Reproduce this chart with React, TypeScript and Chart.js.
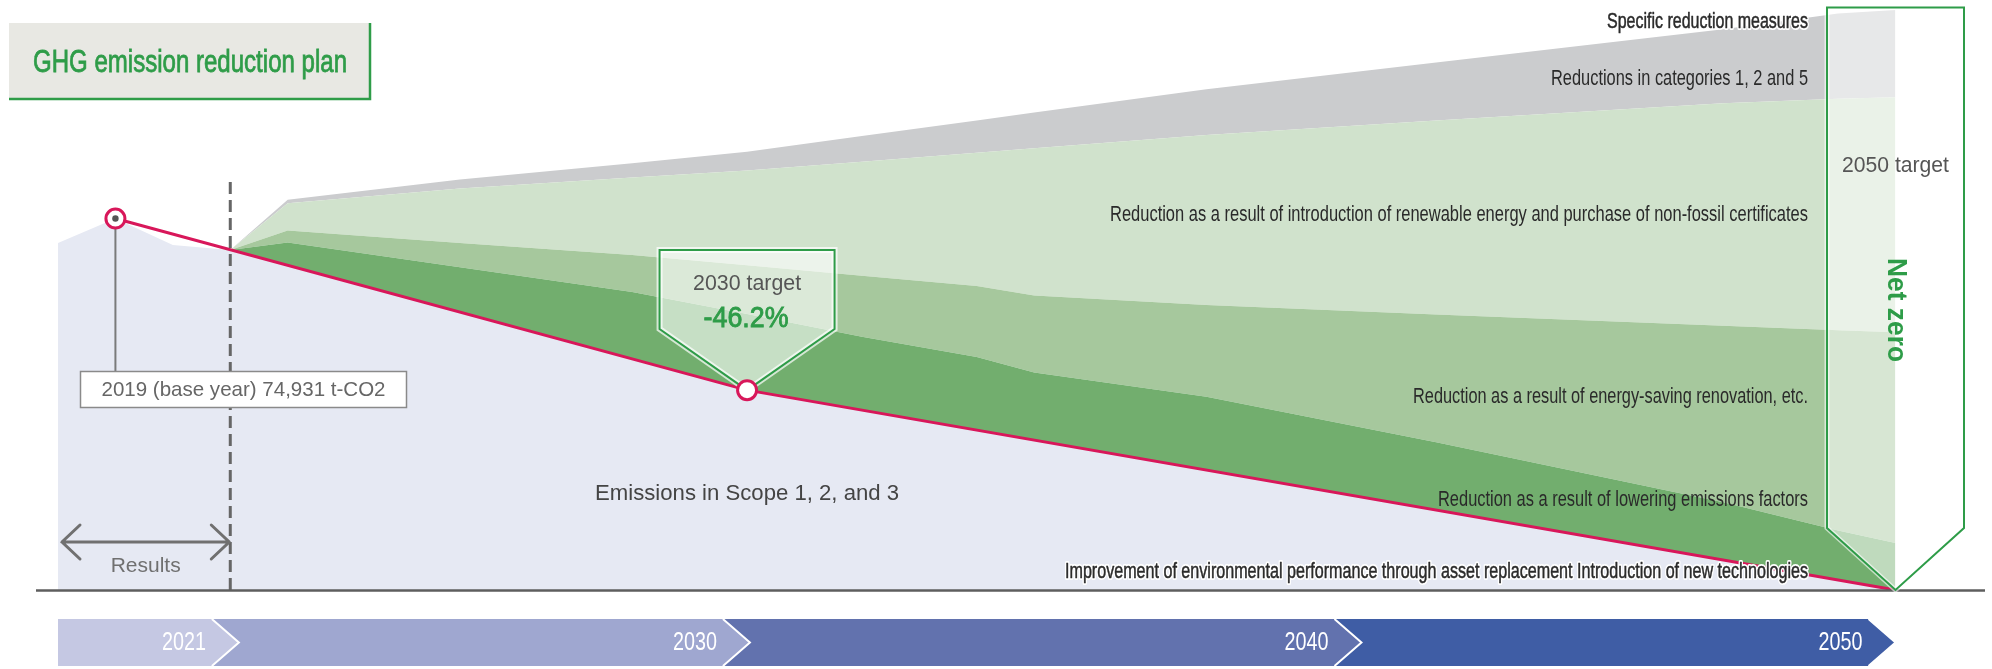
import React, { useEffect, useRef } from 'react';
import { Chart, registerables } from 'chart.js';

Chart.register(...registerables);

// ---- data (t-CO2) ----
// Actual emissions (Scope 1, 2 and 3) and the planned path below the target line
const emissionYears = [2018, 2019, 2020, 2021, 2030, 2050];
const emissionsScope123 = [70000, 74931, 69600, 68600, 40313, 0];

// Target path: base year 2019, 2030 target, 2050 net zero
const targetYears = [2019, 2030, 2050];
const targetPath = [74931, 40313, 0];

// Upper edge of each reduction band (cumulative, t-CO2)
const planYears = [2021, 2022, 2025, 2028, 2030, 2032, 2034, 2035, 2038, 2042, 2047, 2049, 2050];
const emissionsFactorTop = [68600, 70100, 65100, 60100, 55700, 51100, 47000, 43900, 39000, 29800, 17700, 12000, 9500];
const renovationTop = [68600, 72500, 70000, 67600, 65500, 63400, 61300, 59400, 57500, 55600, 53300, 52400, 52000];
const renewableTop = [68600, 78000, 81000, 83200, 84600, 86400, 88200, 89100, 91800, 94700, 98200, 99100, 99400];
const categoriesTop = [68600, 78700, 82800, 86100, 88400, 91600, 94700, 96300, 101000, 106400, 113100, 116300, 117000];

const resultsEndYear = 2021;

// Timeline band
const timelineLabels = ['2021', '2030', '2040', '2050'];

// Band captions
const bandCaptions = [
  'Specific reduction measures',
  'Reductions in categories 1, 2 and 5',
  'Reduction as a result of introduction of renewable energy and purchase of non-fossil certificates',
  'Reduction as a result of energy-saving renovation, etc.',
  'Reduction as a result of lowering emissions factors',
  'Improvement of environmental performance through asset replacement Introduction of new technologies',
];

// ---- layout & style ----
const W = 1992;
const H = 669;
const SANS = '"Liberation Sans", Arial, Helvetica, sans-serif';
const NARROW = '"Liberation Sans Narrow", "Liberation Sans", Arial, sans-serif';
const RED = '#d8175a';
const GREEN = '#2e9c48';
const LAVENDER = '#e6e9f3';
const DARK_GREEN = '#72ae6e';
const MID_GREEN = '#a6c89d';
const LIGHT_GREEN = '#d0e2cc';
const GREY = '#cbccce';
const TIMELINE_COLORS = ['#c5c8e3', '#9fa7d0', '#6272ae', '#3f5da5'];
const TIMELINE_TIPS = [2021.15, 2030.05, 2040.7, 2050];
// caption placement: [left, right, centre y, halo]
const CAPTION_BOXES: [number, number, number, boolean][] = [
  [1607, 1808, 22, true],
  [1551, 1808, 79, false],
  [1110, 1808, 215, false],
  [1413, 1808, 397, false],
  [1438, 1808, 500, false],
  [1065, 1808, 572, true],
];

function fitText(
  ctx: CanvasRenderingContext2D,
  text: string,
  left: number,
  right: number,
  cy: number,
  font: string,
  color: string,
  halo = 0,
  thicken = 0,
) {
  ctx.save();
  ctx.font = font;
  const w = ctx.measureText(text).width;
  const sx = (right - left) / w;
  ctx.translate(left, cy);
  ctx.scale(sx, 1);
  ctx.textAlign = 'left';
  ctx.textBaseline = 'middle';
  if (halo) {
    ctx.lineJoin = 'round';
    ctx.strokeStyle = '#ffffff';
    ctx.lineWidth = halo;
    ctx.strokeText(text, 0, 0);
  }
  if (thicken) {
    ctx.strokeStyle = color;
    ctx.lineWidth = thicken;
    ctx.strokeText(text, 0, 0);
  }
  ctx.fillStyle = color;
  ctx.fillText(text, 0, 0);
  ctx.restore();
}

function centerText(
  ctx: CanvasRenderingContext2D,
  text: string,
  cx: number,
  width: number,
  cy: number,
  font: string,
  color: string,
  thicken = 0,
) {
  fitText(ctx, text, cx - width / 2, cx + width / 2, cy, font, color, 0, thicken);
}

function pentagon(ctx: CanvasRenderingContext2D, cx: number, half: number, top: number, shoulder: number, tipY: number) {
  ctx.beginPath();
  ctx.moveTo(cx - half, top);
  ctx.lineTo(cx + half, top);
  ctx.lineTo(cx + half, shoulder);
  ctx.lineTo(cx, tipY);
  ctx.lineTo(cx - half, shoulder);
  ctx.closePath();
}

const decorPlugin = {
  id: 'decor',
  afterDatasetsDraw(chart: any) {
    const ctx: CanvasRenderingContext2D = chart.ctx;
    const xs = chart.scales.x;
    const ys = chart.scales.y;
    const px = (v: number) => xs.getPixelForValue(v);
    const py = (v: number) => ys.getPixelForValue(v);
    const y0 = py(0);

    ctx.save();

    // dashed divider between results and plan
    const xr = px(resultsEndYear);
    ctx.strokeStyle = '#666';
    ctx.lineWidth = 3;
    ctx.setLineDash([12, 6]);
    ctx.beginPath();
    ctx.moveTo(xr, 182);
    ctx.lineTo(xr, y0);
    ctx.stroke();
    ctx.setLineDash([]);

    // baseline
    ctx.strokeStyle = '#5e5e5e';
    ctx.lineWidth = 2.5;
    ctx.beginPath();
    ctx.moveTo(36, y0 + 0.5);
    ctx.lineTo(1985, y0 + 0.5);
    ctx.stroke();

    // "Results" double arrow
    const ay = 542;
    const ax0 = px(emissionYears[0]) + 4;
    const ax1 = xr - 1;
    ctx.strokeStyle = '#707070';
    ctx.lineWidth = 3;
    ctx.lineCap = 'round';
    ctx.beginPath();
    ctx.moveTo(ax0, ay);
    ctx.lineTo(ax1, ay);
    ctx.moveTo(ax0 + 18, ay - 17);
    ctx.lineTo(ax0, ay);
    ctx.lineTo(ax0 + 18, ay + 17);
    ctx.moveTo(ax1 - 18, ay - 17);
    ctx.lineTo(ax1, ay);
    ctx.lineTo(ax1 - 18, ay + 17);
    ctx.stroke();
    ctx.lineCap = 'butt';
    centerText(ctx, 'Results', (ax0 + ax1) / 2, 70, 566, `21px ${SANS}`, '#707070');

    // 2050 target arrow
    const x50 = px(targetYears[2]);
    pentagon(ctx, x50, 68.5, 7.5, 528, y0);
    ctx.fillStyle = 'rgba(255,255,255,0.55)';
    ctx.fill();
    ctx.strokeStyle = 'rgba(255,255,255,0.6)';
    ctx.lineWidth = 5;
    ctx.stroke();
    ctx.strokeStyle = GREEN;
    ctx.lineWidth = 2;
    ctx.stroke();

    // 2030 target callout
    const x30 = px(targetYears[1]);
    const y30 = py(targetPath[1]);
    pentagon(ctx, x30, 87.5, 250, 329, y30);
    ctx.fillStyle = 'rgba(255,255,255,0.6)';
    ctx.fill();
    ctx.strokeStyle = 'rgba(255,255,255,0.7)';
    ctx.lineWidth = 6;
    ctx.stroke();
    ctx.strokeStyle = GREEN;
    ctx.lineWidth = 2;
    ctx.stroke();
    const pct = ((targetPath[1] - targetPath[0]) / targetPath[0]) * 100;
    centerText(ctx, `${targetYears[1]} target`, x30, 108, 284, `22px ${SANS}`, '#555');
    centerText(ctx, `${pct.toFixed(1)}%`, x30 - 1, 85, 319, `30px ${SANS}`, GREEN, 0.9);

    // base year connector and label
    const x19 = px(targetYears[0]);
    const y19 = py(targetPath[0]);
    ctx.strokeStyle = '#7a7a7a';
    ctx.lineWidth = 2;
    ctx.beginPath();
    ctx.moveTo(x19, y19);
    ctx.lineTo(x19, 371);
    ctx.stroke();
    ctx.fillStyle = '#ffffff';
    ctx.fillRect(80, 371, 327, 37);
    ctx.strokeStyle = '#8a8a8a';
    ctx.lineWidth = 1.5;
    ctx.strokeRect(80.5, 371.5, 326, 36);
    centerText(
      ctx,
      `${targetYears[0]} (base year) ${targetPath[0].toLocaleString('en-US')} t-CO2`,
      243.5,
      284,
      390,
      `21px ${SANS}`,
      '#666',
    );

    // markers on the target path
    for (const [cx, cy] of [[x19, y19], [x30, y30]]) {
      ctx.beginPath();
      ctx.arc(cx, cy, 9.5, 0, Math.PI * 2);
      ctx.fillStyle = '#ffffff';
      ctx.fill();
      ctx.strokeStyle = RED;
      ctx.lineWidth = 3;
      ctx.stroke();
    }
    ctx.beginPath();
    ctx.arc(x19, y19, 3.2, 0, Math.PI * 2);
    ctx.fillStyle = '#555';
    ctx.fill();

    // band captions
    bandCaptions.forEach((t, i) => {
      const [l, r, cy, halo] = CAPTION_BOXES[i];
      fitText(ctx, t, l, r, cy, `22px ${NARROW}`, '#2a2a2a', halo ? 4 : 0, halo ? 0.5 : 0);
    });

    centerText(ctx, 'Emissions in Scope 1, 2, and 3', x30, 304, 494, `22px ${SANS}`, '#444');
    centerText(ctx, `${targetYears[2]} target`, x50, 107, 166, `22px ${SANS}`, '#555');

    // "Net zero" written vertically
    ctx.save();
    ctx.translate(x50, 310);
    ctx.rotate(Math.PI / 2);
    centerText(ctx, 'Net zero', 0, 104, 0, `bold 27px ${SANS}`, GREEN);
    ctx.restore();

    // timeline band
    const bandTop = 619;
    const bandBot = 666;
    const mid = (bandTop + bandBot) / 2;
    const depth = 27;
    const tips = TIMELINE_TIPS.map(px);
    tips.forEach((tip, i) => {
      const left = i === 0 ? px(emissionYears[0]) : tips[i - 1] - depth;
      ctx.beginPath();
      ctx.moveTo(left, bandTop);
      ctx.lineTo(tip - depth, bandTop);
      ctx.lineTo(tip, mid);
      ctx.lineTo(tip - depth, bandBot);
      ctx.lineTo(left, bandBot);
      if (i > 0) ctx.lineTo(tips[i - 1], mid);
      ctx.closePath();
      ctx.fillStyle = TIMELINE_COLORS[i];
      ctx.fill();
    });
    ctx.strokeStyle = '#ffffff';
    ctx.lineWidth = 2;
    tips.forEach((tip) => {
      ctx.beginPath();
      ctx.moveTo(tip - depth, bandTop);
      ctx.lineTo(tip, mid);
      ctx.lineTo(tip - depth, bandBot);
      ctx.stroke();
    });
    timelineLabels.forEach((t, i) => {
      const r = tips[i] - 33;
      fitText(ctx, t, r - 44, r, mid + 1, `25px ${NARROW}`, '#ffffff');
    });

    // title
    ctx.fillStyle = '#e8e8e3';
    ctx.fillRect(9, 23, 362, 77);
    ctx.strokeStyle = GREEN;
    ctx.lineWidth = 2.5;
    ctx.beginPath();
    ctx.moveTo(370, 23);
    ctx.lineTo(370, 99);
    ctx.lineTo(9, 99);
    ctx.stroke();
    fitText(ctx, 'GHG emission reduction plan', 33, 347, 63, `32px ${NARROW}`, GREEN, 0, 0.8);

    ctx.restore();
  },
};

export default function App() {
  const ref = useRef<HTMLCanvasElement>(null);

  useEffect(() => {
    const canvas = ref.current;
    if (!canvas) return;
    const toXY = (xs: number[], ys: number[]) => xs.map((x, i) => ({ x, y: ys[i] }));
    const area = (label: string, xs: number[], ys: number[], color: string, fill: any) => ({
      label,
      data: toXY(xs, ys),
      backgroundColor: color,
      borderColor: 'rgba(0,0,0,0)',
      borderWidth: 0,
      pointRadius: 0,
      tension: 0,
      fill,
      order: 1,
    });

    const chart = new Chart(canvas, {
      type: 'line',
      data: {
        datasets: [
          area('Emissions in Scope 1, 2, and 3', emissionYears, emissionsScope123, LAVENDER, 'origin'),
          area(bandCaptions[4], planYears, emissionsFactorTop, DARK_GREEN, '-1'),
          area(bandCaptions[3], planYears, renovationTop, MID_GREEN, '-1'),
          area(bandCaptions[2], planYears, renewableTop, LIGHT_GREEN, '-1'),
          area(bandCaptions[1], planYears, categoriesTop, GREY, '-1'),
          {
            label: 'Target path',
            data: toXY(targetYears, targetPath),
            borderColor: RED,
            borderWidth: 3,
            pointRadius: 0,
            tension: 0,
            fill: false,
            order: 0,
          } as any,
        ],
      },
      options: {
        animation: false,
        responsive: false,
        devicePixelRatio: 1,
        layout: { padding: { left: 58, right: W - 1895.5, top: 10, bottom: H - 590 } },
        scales: {
          x: { type: 'linear', min: 2018, max: 2050, display: false },
          y: { type: 'linear', min: 0, max: 117000, display: false },
        },
        plugins: {
          legend: { display: false },
          tooltip: { enabled: false },
          filler: { propagate: false },
        },
      },
      plugins: [decorPlugin],
    } as any);

    return () => chart.destroy();
  }, []);

  return (
    <div style={{ position: 'fixed', left: 0, top: 0, width: W, height: H, background: '#ffffff' }}>
      <canvas ref={ref} width={W} height={H} style={{ display: 'block', width: W, height: H }} />
    </div>
  );
}
